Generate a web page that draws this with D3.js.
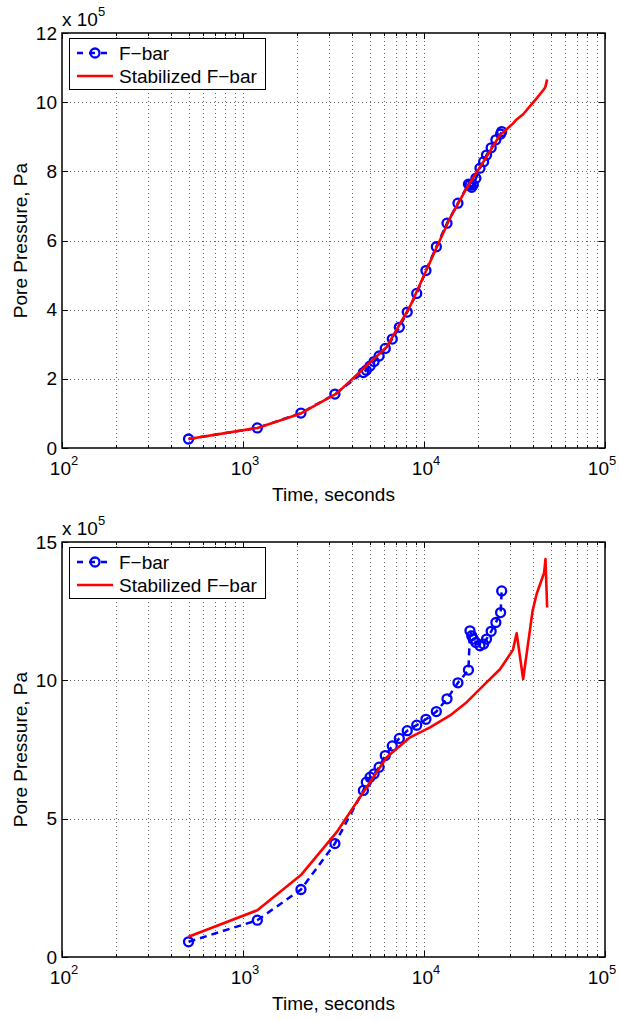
<!DOCTYPE html>
<html><head><meta charset="utf-8">
<script src="https://cdn.jsdelivr.net/npm/d3@7"></script>
<style>body{margin:0;background:#fff}svg{display:block;font-family:"Liberation Sans",Arial,sans-serif}</style>
</head><body>
<svg id="c" width="619" height="1020"></svg>
<script>
// ---- data ----
const fbarTimes = [500, 1200, 2090, 3220, 4625, 4800, 5035, 5300, 5650, 6110, 6680, 7305, 8080, 9115, 10250, 11700, 13400, 15400, 17600, 17950, 18350, 18720, 19350, 20380, 21350, 22150, 23500, 24950, 26500, 26870];
const fbarTop = [0.26, 0.58, 1.01, 1.56, 2.18, 2.25, 2.37, 2.50, 2.66, 2.88, 3.15, 3.49, 3.93, 4.47, 5.13, 5.82, 6.50, 7.08, 7.63, 7.60, 7.54, 7.61, 7.80, 8.09, 8.28, 8.47, 8.68, 8.91, 9.08, 9.15];
const fbarBottom = [0.55, 1.33, 2.44, 4.10, 6.02, 6.32, 6.50, 6.62, 6.86, 7.28, 7.63, 7.90, 8.18, 8.38, 8.59, 8.87, 9.33, 9.91, 10.37, 11.79, 11.61, 11.49, 11.37, 11.25, 11.31, 11.49, 11.77, 12.09, 12.45, 13.23];
const stabTimes = [500, 1200, 2090, 3300, 6220, 8380, 10800, 13930, 17220, 21730, 26300, 31000, 32500, 35300, 39800, 41900, 46100, 46900, 47900];
const stabTop = [0.26, 0.58, 1.00, 1.58, 2.92, 4.10, 5.38, 6.65, 7.52, 8.35, 9.05, 9.38, 9.50, 9.65, 9.97, 10.11, 10.38, 10.45, 10.66];
const stabBottom = [0.73, 1.69, 2.96, 4.52, 7.22, 7.94, 8.30, 8.73, 9.21, 9.87, 10.40, 11.10, 11.70, 10.05, 12.51, 13.12, 13.89, 14.38, 12.63];
const xTicks = [100, 1000, 10000, 100000];
const xTickExp = ["2", "3", "4", "5"];
const yTicksTop = [0, 2, 4, 6, 8, 10, 12];
const yTicksBottom = [0, 5, 10, 15];
const legendLabels = ["F\u2212bar", "Stabilized F\u2212bar"];
const xLabel = "Time, seconds";
const yLabel = "Pore Pressure, Pa";

const svg = d3.select("#c");
const L = 62, R = 605;

function panel(top, bottom, yMax, yTicks, fbar, stab) {
  const g = svg.append("g");
  const x = d3.scaleLog().domain([100, 100000]).range([L, R]);
  const y = d3.scaleLinear().domain([0, yMax]).range([bottom, top]);
  const minors = [];
  for (let d = 100; d < 100000; d *= 10) for (let k = 2; k <= 9; k++) minors.push(d * k);
  // grid
  const grid = g.append("g").attr("stroke", "#666").attr("stroke-width", 1).attr("stroke-dasharray", "1,3");
  minors.concat(xTicks.slice(1, -1)).forEach(v => {
    grid.append("line").attr("x1", Math.round(x(v)) + 0.5).attr("x2", Math.round(x(v)) + 0.5).attr("y1", top).attr("y2", bottom);
  });
  yTicks.slice(1, -1).forEach(v => {
    grid.append("line").attr("x1", L).attr("x2", R).attr("y1", Math.round(y(v)) + 0.5).attr("y2", Math.round(y(v)) + 0.5);
  });
  // axes with inward ticks
  const ax = g.append("g").attr("stroke", "#000").attr("stroke-width", 1);
  xTicks.forEach(v => {
    const xv = Math.round(x(v)) + 0.5;
    ax.append("line").attr("x1", xv).attr("x2", xv).attr("y1", bottom).attr("y2", bottom - 6);
    ax.append("line").attr("x1", xv).attr("x2", xv).attr("y1", top).attr("y2", top + 6);
  });
  minors.forEach(v => {
    const xv = Math.round(x(v)) + 0.5;
    ax.append("line").attr("x1", xv).attr("x2", xv).attr("y1", bottom).attr("y2", bottom - 3);
    ax.append("line").attr("x1", xv).attr("x2", xv).attr("y1", top).attr("y2", top + 3);
  });
  yTicks.forEach(v => {
    const yv = Math.round(y(v)) + 0.5;
    ax.append("line").attr("x1", L).attr("x2", L + 6).attr("y1", yv).attr("y2", yv);
    ax.append("line").attr("x1", R).attr("x2", R - 6).attr("y1", yv).attr("y2", yv);
  });
  g.append("rect").attr("x", L).attr("y", top).attr("width", R - L).attr("height", bottom - top)
    .attr("fill", "none").attr("stroke", "#000").attr("stroke-width", 1.5);
  // tick labels
  yTicks.forEach(v => {
    g.append("text").attr("x", L - 5).attr("y", y(v)).attr("text-anchor", "end")
      .attr("dominant-baseline", "central").attr("font-size", 19).text(v);
  });
  xTicks.forEach((v, i) => {
    const t = g.append("text").attr("x", Math.min(x(v) + 2, 602)).attr("y", bottom + 27).attr("text-anchor", "middle").attr("font-size", 19);
    t.append("tspan").text("10");
    t.append("tspan").attr("font-size", 13).attr("dy", -10).text(xTickExp[i]);
  });
  // multiplier
  const m = g.append("text").attr("x", L).attr("y", top - 7).attr("font-size", 19);
  m.append("tspan").text("x 10");
  m.append("tspan").attr("font-size", 13).attr("dy", -10).text("5");
  // axis labels
  g.append("text").attr("x", (L + R) / 2).attr("y", bottom + 53).attr("text-anchor", "middle").attr("font-size", 19).text(xLabel);
  g.append("text").attr("transform", `translate(27,${(top + bottom) / 2}) rotate(-90)`).attr("text-anchor", "middle").attr("font-size", 19).text(yLabel);
  // lines
  const line = d3.line().x(d => x(d[0])).y(d => y(d[1]));
  const fData = fbarTimes.map((t, i) => [t, fbar[i]]);
  const sData = stabTimes.map((t, i) => [t, stab[i]]);
  g.append("path").datum(fData).attr("d", line).attr("fill", "none").attr("stroke", "#0000ff")
    .attr("stroke-width", 2.5).attr("stroke-dasharray", "7,5");
  g.selectAll(null).data(fData).join("circle").attr("cx", d => x(d[0])).attr("cy", d => y(d[1])).attr("r", 4.5)
    .attr("fill", "none").attr("stroke", "#0000ff").attr("stroke-width", 2.3);
  g.append("path").datum(sData).attr("d", line).attr("fill", "none").attr("stroke", "#ff0000")
    .attr("stroke-width", 2.6).attr("stroke-linejoin", "round");
  // legend
  const lg = g.append("g");
  lg.append("rect").attr("x", 69.5).attr("y", top + 5.5).attr("width", 196).attr("height", 51)
    .attr("fill", "#fff").attr("stroke", "#000").attr("stroke-width", 1);
  const r1 = top + 20, r2 = top + 43;
  lg.append("line").attr("x1", 77).attr("x2", 113).attr("y1", r1).attr("y2", r1).attr("stroke", "#0000ff")
    .attr("stroke-width", 2.5).attr("stroke-dasharray", "6,6");
  lg.append("circle").attr("cx", 95).attr("cy", r1).attr("r", 4.5).attr("fill", "none").attr("stroke", "#0000ff").attr("stroke-width", 2.3);
  lg.append("line").attr("x1", 77).attr("x2", 113).attr("y1", r2).attr("y2", r2).attr("stroke", "#ff0000").attr("stroke-width", 2.6);
  lg.append("text").attr("x", 119).attr("y", r1).attr("dominant-baseline", "central").attr("font-size", 19).text(legendLabels[0]);
  lg.append("text").attr("x", 119).attr("y", r2).attr("dominant-baseline", "central").attr("font-size", 19).text(legendLabels[1]);
}

panel(33, 448, 12, yTicksTop, fbarTop, stabTop);
panel(542, 957, 15, yTicksBottom, fbarBottom, stabBottom);
</script>
</body></html>
